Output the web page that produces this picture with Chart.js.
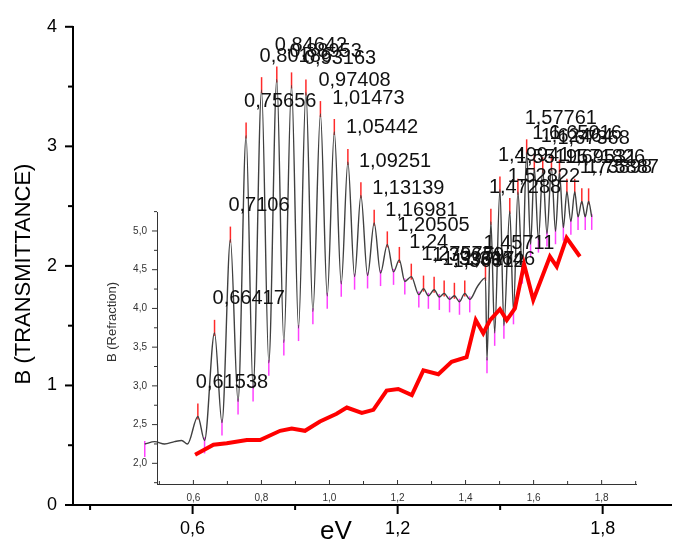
<!DOCTYPE html>
<html>
<head>
<meta charset="utf-8">
<script src="https://cdn.jsdelivr.net/npm/chart.js@4.4.0/dist/chart.umd.min.js"></script>
<style>
    body { margin: 0; background: #fff; }
    #wrap { position: relative; width: 676px; height: 543px; }
    #wrap canvas { position: absolute; left: 0; top: 0; }
</style>
</head>
<body>
<div id="wrap">
    <canvas id="outer" width="676" height="543"></canvas>
    <canvas id="inner" width="676" height="543"></canvas>
</div>
<script>
// transmittance curve (outer axes)
let energy = [
    0.460, 0.489, 0.518, 0.547, 0.568, 0.585,
    0.61538, 0.635, 0.66417, 0.686, 0.7106, 0.733, 0.75656, 0.777, 0.80186, 0.823,
    0.84642, 0.867, 0.88953, 0.910, 0.93163, 0.952, 0.97408, 0.994, 1.01473, 1.035,
    1.05442, 1.074, 1.09251, 1.112, 1.13139, 1.150, 1.16981, 1.188, 1.20505, 1.221,
    1.24, 1.262, 1.27575, 1.290, 1.30679, 1.322, 1.33617, 1.352, 1.36612, 1.381, 1.39646, 1.411, 1.434,
    1.45711, 1.4615, 1.47288, 1.484, 1.49941, 1.511, 1.52822, 1.539, 1.55195, 1.565,
    1.57761, 1.589, 1.6, 1.612, 1.62464, 1.637, 1.65016, 1.662, 1.67368, 1.685,
    1.69531, 1.707, 1.71826, 1.728, 1.73898, 1.749, 1.75887, 1.768
];
let trans = [
    0.51, 0.53, 0.51, 0.53, 0.54, 0.51,
    0.74, 0.54, 1.44, 0.69, 2.22, 0.865, 3.09, 0.975, 3.47, 1.19,
    3.56, 1.36, 3.51, 1.48, 3.45, 1.62, 3.27, 1.75, 3.12, 1.85,
    2.87, 1.91, 2.59, 1.92, 2.36, 1.94, 2.18, 1.95, 2.05, 1.87,
    1.91, 1.76, 1.81, 1.75, 1.80, 1.74, 1.77, 1.72, 1.75, 1.70, 1.77, 1.72, 1.83,
    1.90, 1.21, 2.37, 1.44, 2.64, 1.50, 2.46, 1.62, 2.62, 1.96,
    2.95, 2.18, 2.82, 2.22, 2.80, 2.27, 2.82, 2.29, 2.78, 2.32,
    2.62, 2.37, 2.62, 2.41, 2.54, 2.41, 2.54, 2.41
];

// found peaks (labelled) and valleys
let peaks = [
    0.61538, 0.66417, 0.7106, 0.75656, 0.80186, 0.84642, 0.88953, 0.93163, 0.97408, 1.01473,
    1.05442, 1.09251, 1.13139, 1.16981, 1.20505, 1.24, 1.27575, 1.30679, 1.33617, 1.36612,
    1.39646, 1.45711, 1.47288, 1.49941, 1.52822, 1.55195, 1.57761, 1.6, 1.62464, 1.65016,
    1.67368, 1.69531, 1.71826, 1.73898, 1.75887
];
let valleys = [
    0.460, 0.635, 0.686, 0.733, 0.777, 0.823, 0.867, 0.910, 0.952, 0.994, 1.035, 1.074,
    1.112, 1.150, 1.188, 1.221, 1.262, 1.290, 1.322, 1.352, 1.381, 1.411, 1.4615, 1.484,
    1.511, 1.539, 1.565, 1.589, 1.612, 1.637, 1.662, 1.685, 1.707, 1.728, 1.749, 1.768
];

// refraction curve (inner axes)
let refrE = [
    0.605, 0.659, 0.698, 0.757, 0.796, 0.855, 0.889, 0.928, 0.972, 1.021, 1.051, 1.095,
    1.129, 1.168, 1.202, 1.242, 1.276, 1.320, 1.359, 1.403, 1.430, 1.452, 1.472, 1.501,
    1.521, 1.545, 1.572, 1.599, 1.648, 1.668, 1.697, 1.736
];
let refrB = [
    2.11, 2.24, 2.26, 2.30, 2.30, 2.42, 2.45, 2.42, 2.54, 2.64, 2.72, 2.65,
    2.69, 2.94, 2.96, 2.88, 3.20, 3.15, 3.31, 3.37, 3.85, 3.68, 3.85, 3.99,
    3.85, 4.00, 4.57, 4.11, 4.67, 4.54, 4.91, 4.67
];

let outerXTicks = [0.3, 0.6, 0.9, 1.2, 1.5, 1.8];
let outerXMajor = [0.6, 1.2, 1.8];
let outerYTicks = [0, 0.5, 1, 1.5, 2, 2.5, 3, 3.5, 4];
let innerXTicks = [0.5, 0.6, 0.7, 0.8, 0.9, 1.0, 1.1, 1.2, 1.3, 1.4, 1.5, 1.6, 1.7, 1.8, 1.9];
let innerXMajor = [0.6, 0.8, 1.0, 1.2, 1.4, 1.6, 1.8];
let innerYTicks = [1.75, 2.0, 2.25, 2.5, 2.75, 3.0, 3.25, 3.5, 3.75, 4.0, 4.25, 4.5, 4.75, 5.0, 5.25];

function comma(v) {
    return String(v).replace('.', ',');
}

function isMajor(list, v) {
    return list.some(m => Math.abs(m - v) < 1e-6);
}

function setTicks(list) {
    return function (scale) {
        scale.ticks = list.map(v => ({ value: v }));
    };
}

function points(xs, ys) {
    return xs.map((x, i) => ({ x: x, y: ys[i] }));
}

function valueAt(x) {
    let i = energy.indexOf(x);
    return trans[i];
}

// tick marks drawn by hand so major and minor ones differ in length
function drawTicks(ctx, scale, list, major, long, short, dir, width, color) {
    ctx.save();
    ctx.strokeStyle = color;
    ctx.lineWidth = width;
    list.forEach(v => {
        let len = isMajor(major, v) ? long : short;
        let p = scale.getPixelForValue(v);
        ctx.beginPath();
        if (scale.axis == 'x') {
            let y = scale.top;
            ctx.moveTo(p, y);
            ctx.lineTo(p, y + len * dir);
        } else {
            let x = scale.right;
            ctx.moveTo(x, p);
            ctx.lineTo(x - len * dir, p);
        }
        ctx.stroke();
    });
    ctx.restore();
}

const outerPlugin = {
    id: 'outerMarks',
    beforeDatasetsDraw(chart) {
        let ctx = chart.ctx;
        let xs = chart.scales.x, ys = chart.scales.y;
        ctx.save();
        ctx.lineWidth = 1.5;
        ctx.strokeStyle = '#ff2a2a';
        peaks.forEach(e => {
            let px = xs.getPixelForValue(e), py = ys.getPixelForValue(valueAt(e));
            ctx.beginPath();
            ctx.moveTo(px, py - 13);
            ctx.lineTo(px, py + 3);
            ctx.stroke();
        });
        ctx.strokeStyle = '#ff40ff';
        valleys.forEach(e => {
            let px = xs.getPixelForValue(e), py = ys.getPixelForValue(valueAt(e));
            ctx.beginPath();
            ctx.moveTo(px, py - 3);
            ctx.lineTo(px, py + 13);
            ctx.stroke();
        });
        ctx.restore();
    },
    afterDatasetsDraw(chart) {
        let ctx = chart.ctx;
        let xs = chart.scales.x, ys = chart.scales.y;
        ctx.save();
        ctx.fillStyle = '#111';
        ctx.font = '20px "Liberation Sans", Arial, sans-serif';
        ctx.textAlign = 'left';
        ctx.textBaseline = 'middle';
        peaks.forEach(e => {
            let px = xs.getPixelForValue(e), py = ys.getPixelForValue(valueAt(e));
            ctx.fillText(comma(e), px - 2, py - 34);
        });
        ctx.restore();
    },
    afterDraw(chart) {
        let ctx = chart.ctx;
        drawTicks(ctx, chart.scales.x, outerXTicks, outerXMajor, 9, 5, 1, 2, '#000');
        drawTicks(ctx, chart.scales.y, outerYTicks, [0, 1, 2, 3, 4], 8, 5, 1, 2, '#000');
        ctx.save();
        ctx.fillStyle = '#000';
        ctx.textAlign = 'center';
        ctx.textBaseline = 'middle';
        ctx.font = '26px "Liberation Sans", Arial, sans-serif';
        ctx.fillText('eV', 336, 532);
        ctx.translate(24, 274);
        ctx.rotate(-Math.PI / 2);
        ctx.font = '22px "Liberation Sans", Arial, sans-serif';
        ctx.fillText('B (TRANSMITTANCE)', 0, 0);
        ctx.restore();
    }
};

const innerPlugin = {
    id: 'innerMarks',
    afterDraw(chart) {
        let ctx = chart.ctx;
        drawTicks(ctx, chart.scales.x, innerXTicks, innerXMajor, 4, 3, -1, 1, '#333');
        drawTicks(ctx, chart.scales.y, innerYTicks, [2, 2.5, 3, 3.5, 4, 4.5, 5], 5, 3, 1, 1, '#333');
        ctx.save();
        ctx.fillStyle = '#333';
        ctx.textAlign = 'center';
        ctx.textBaseline = 'middle';
        ctx.translate(112, 322);
        ctx.rotate(-Math.PI / 2);
        ctx.font = '13px "Liberation Sans", Arial, sans-serif';
        ctx.fillText('B (Refraction)', 0, 0);
        ctx.restore();
    }
};

let outerChart = new Chart(document.getElementById('outer'), {
    type: 'line',
    data: {
        datasets: [{
            label: 'B (Transmittance)',
            data: points(energy, trans),
            borderColor: '#404040',
            borderWidth: 1.4,
            pointRadius: 0,
            cubicInterpolationMode: 'monotone',
            fill: false
        }]
    },
    options: {
        responsive: false,
        animation: false,
        layout: { padding: { left: 0, right: 5, top: 19, bottom: 0 } },
        plugins: { legend: { display: false }, tooltip: { enabled: false } },
        scales: {
            x: {
                type: 'linear',
                min: 0.25,
                max: 2.0,
                afterFit: s => { s.height = 38; },
                afterBuildTicks: setTicks(outerXTicks),
                grid: { display: false, drawTicks: false },
                border: { display: true, color: '#000', width: 2 },
                ticks: {
                    autoSkip: false,
                    maxRotation: 0,
                    padding: 13,
                    color: '#000',
                    font: { family: '"Liberation Sans", Arial, sans-serif', size: 18 },
                    callback: v => isMajor(outerXMajor, v) ? comma(v) : ''
                }
            },
            y: {
                type: 'linear',
                min: 0,
                max: 4,
                afterFit: s => { s.width = 73; },
                afterBuildTicks: setTicks(outerYTicks),
                grid: { display: false, drawTicks: false },
                border: { display: true, color: '#000', width: 2 },
                ticks: {
                    autoSkip: false,
                    padding: 16,
                    color: '#000',
                    font: { family: '"Liberation Sans", Arial, sans-serif', size: 18 },
                    callback: v => Number.isInteger(v) ? String(v) : ''
                }
            }
        }
    },
    plugins: [outerPlugin]
});

let innerChart = new Chart(document.getElementById('inner'), {
    type: 'line',
    data: {
        datasets: [{
            label: 'B (Refraction)',
            data: points(refrE, refrB),
            borderColor: '#ff0000',
            borderWidth: 4,
            pointRadius: 0,
            tension: 0,
            fill: false
        }]
    },
    options: {
        responsive: false,
        animation: false,
        layout: { padding: { left: 0, right: 40, top: 212, bottom: 0 } },
        plugins: { legend: { display: false }, tooltip: { enabled: false } },
        scales: {
            x: {
                type: 'linear',
                min: 0.493,
                max: 1.901,
                afterFit: s => { s.height = 59; },
                afterBuildTicks: setTicks(innerXTicks),
                grid: { display: false, drawTicks: false },
                border: { display: true, color: '#333', width: 1 },
                ticks: {
                    autoSkip: false,
                    maxRotation: 0,
                    padding: 8,
                    color: '#333',
                    font: { family: '"Liberation Sans", Arial, sans-serif', size: 10 },
                    callback: v => isMajor(innerXMajor, v) ? v.toFixed(1).replace('.', ',') : ''
                }
            },
            y: {
                type: 'linear',
                min: 1.733,
                max: 5.245,
                afterFit: s => { s.width = 157; },
                afterBuildTicks: setTicks(innerYTicks),
                grid: { display: false, drawTicks: false },
                border: { display: true, color: '#333', width: 1 },
                ticks: {
                    autoSkip: false,
                    padding: 10,
                    color: '#333',
                    font: { family: '"Liberation Sans", Arial, sans-serif', size: 10 },
                    callback: v => (Math.abs(v * 2 - Math.round(v * 2)) < 1e-6) ? v.toFixed(1).replace('.', ',') : ''
                }
            }
        }
    },
    plugins: [innerPlugin]
});
</script>
</body>
</html>
